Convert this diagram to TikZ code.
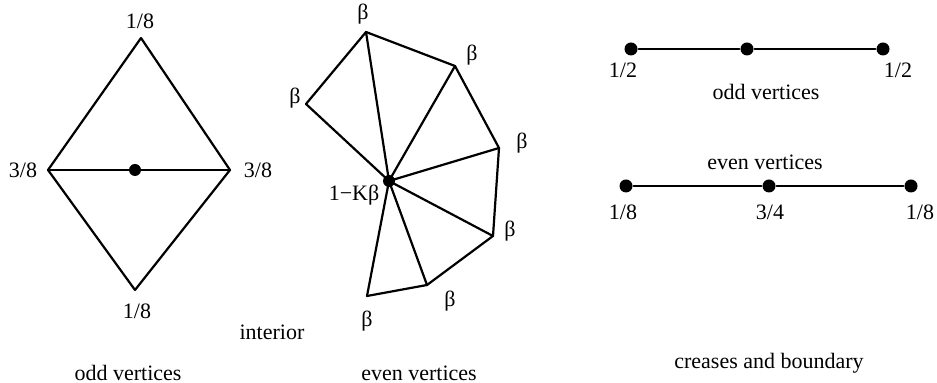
\documentclass[tikz,border=0pt]{standalone}
\usepackage{fontspec}
\setmainfont{Liberation Serif}
\begin{document}
\begin{tikzpicture}[x=0.5pt,y=-0.5pt,line join=round,line cap=round,line width=1.1pt,
	font=\fontsize{11}{13}\selectfont,
	dot/.style={circle,fill,inner sep=0pt,minimum size=#1},dot/.default=6.5pt]
	\useasboundingbox (0,0) rectangle (937,383);
	% odd vertices (interior)
	\coordinate (dt) at (141,38);
	\coordinate (dl) at (48,170);
	\coordinate (dr) at (230,170);
	\coordinate (db) at (135,290);
	\draw (dt) -- (dr) -- (db) -- (dl) -- cycle;
	\draw (dl) -- (dr);
	\node[dot=6pt] (dc) at (135,170) {};
	\node (ldt) at (140,21) {1/8};
	\node (ldl) at (23,170) {3/8};
	\node (ldr) at (258,170) {3/8};
	\node (ldb) at (137,311) {1/8};
	\node (todd) at (128,373) {odd vertices};
	\node (tint) at (272,332) {interior};
	% even vertices (interior)
	\coordinate (f0) at (306,104);
	\coordinate (f1) at (366,32);
	\coordinate (f2) at (455,66);
	\coordinate (f3) at (499,148);
	\coordinate (f4) at (493,236);
	\coordinate (f5) at (427,285);
	\coordinate (f6) at (367,296);
	\draw (f0) -- (f1) -- (f2) -- (f3) -- (f4) -- (f5) -- (f6);
	\foreach \i in {0,...,6}
	\draw (389,181) -- (f\i);
	\node[dot=6pt] (fc) at (389,181) {};
	\node (lfc) at (354,195) {1−Kβ};
	\node (lf0) at (295,98) {β};
	\node (lf1) at (363,14) {β};
	\node (lf2) at (472,55) {β};
	\node (lf3) at (522,143) {β};
	\node (lf4) at (510,231) {β};
	\node (lf5) at (450,301) {β};
	\node (lf6) at (367,321) {β};
	\node (teven) at (419,373) {even vertices};
	% creases and boundary
	\node[dot] (oa) at (631,49) {};
	\node[dot] (ob) at (747,49) {};
	\node[dot] (oc) at (883,49) {};
	\draw (oa) -- (ob) -- (oc);
	\node (loa) at (623,70) {1/2};
	\node (loc) at (898,70) {1/2};
	\node (tcodd) at (766,92) {odd vertices};
	\node (tceven) at (765,162) {even vertices};
	\node[dot] (ea) at (626,186) {};
	\node[dot] (eb) at (769,186) {};
	\node[dot] (ec) at (911,186) {};
	\draw (ea) -- (eb) -- (ec);
	\node (lea) at (623,212) {1/8};
	\node (leb) at (770,212) {3/4};
	\node (lec) at (920,212) {1/8};
	\node (tcrease) at (769,363) {creases and boundary};
\end{tikzpicture}
\end{document}
